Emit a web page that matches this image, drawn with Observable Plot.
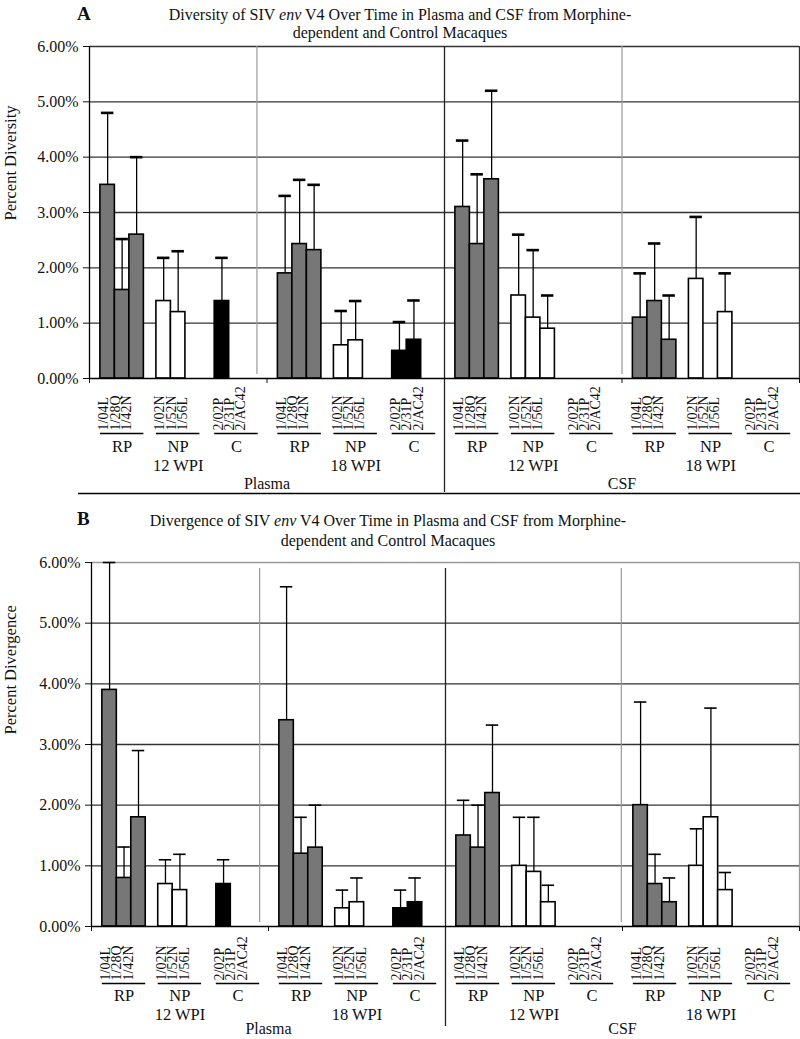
<!DOCTYPE html>
<html>
<head>
<meta charset="utf-8">
<script src="https://cdn.jsdelivr.net/npm/d3@7"></script>
<script src="https://cdn.jsdelivr.net/npm/@observablehq/plot@0.6"></script>
<style>
  body { margin: 0; background: #fff; }
  #wrap { position: relative; width: 800px; height: 1039px; font-family: "Liberation Serif", "Times New Roman", serif; color: #111; overflow: hidden; }
  .letter { position: absolute; font-weight: bold; font-size: 19px; line-height: 19px; }
  .title { position: absolute; text-align: center; font-size: 16px; }
  .chart { position: absolute; left: 0; }
  svg { overflow: visible; }
</style>
</head>
<body>
<div id="wrap">
  <div class="letter" style="left:77px;top:4px">A</div>
  <div class="title" style="left:0;width:800px;top:6px;line-height:18px">Diversity of SIV <i>env</i> V4 Over Time in Plasma and CSF from Morphine-<br>dependent and Control Macaques</div>
  <div class="chart" id="chartA" style="top:40px"></div>
  <div class="letter" style="left:77px;top:509px">B</div>
  <div class="title" style="left:0;width:776px;top:511px;line-height:20px">Divergence of SIV <i>env</i> V4 Over Time in Plasma and CSF from Morphine-<br>dependent and Control Macaques</div>
  <div class="chart" id="chartB" style="top:555px"></div>
</div>
<script>
// ---- data ----
const compartments = ["Plasma", "CSF"];
const timepoints = ["12 WPI", "18 WPI"];
const groups = ["RP", "NP", "C"];
const rpAnimals = ["1/04L", "1/28Q", "1/42N"];
const npAnimals = ["1/02N", "1/52N", "1/56L"];
const cAnimals = ["2/02P", "2/31P", "2/AC42"];
const yTicks = [0, 1, 2, 3, 4, 5, 6];

// percent values; order: Plasma 12 WPI (RP, NP, C), Plasma 18 WPI, CSF 12 WPI, CSF 18 WPI; 3 animals each
const diversityMean = [
  3.5, 1.6, 2.6,   1.4, 1.2, null,   1.4, null, null,
  1.9, 2.43, 2.32, 0.6, 0.69, null,  0.5, 0.7, null,
  3.1, 2.43, 3.6,  1.5, 1.1, 0.9,    null, null, null,
  1.1, 1.4, 0.7,   1.8, null, 1.2,   null, null, null
];
const diversitySD = [
  1.3, 0.92, 1.4,  0.78, 1.1, null,  0.78, null, null,
  1.4, 1.16, 1.18, 0.62, 0.71, null, 0.52, 0.71, null,
  1.2, 1.26, 1.6,  1.1, 1.22, 0.6,   null, null, null,
  0.8, 1.04, 0.8,  1.12, null, 0.7,  null, null, null
];
const divergenceMean = [
  3.9, 0.8, 1.8,   0.7, 0.6, null,   0.7, null, null,
  3.4, 1.2, 1.3,   0.3, 0.4, null,   0.3, 0.4, null,
  1.5, 1.3, 2.2,   1.0, 0.9, 0.4,    null, null, null,
  2.0, 0.7, 0.4,   1.0, 1.8, 0.6,    null, null, null
];
const divergenceSD = [
  2.1, 0.51, 1.1,  0.4, 0.59, null,  0.4, null, null,
  2.2, 0.6, 0.7,   0.3, 0.4, null,   0.3, 0.4, null,
  0.58, 0.7, 1.12, 0.8, 0.9, 0.28,   null, null, null,
  1.7, 0.49, 0.4,  0.61, 1.8, 0.29,  null, null, null
];

// ---- layout (not data) ----
const animalsByGroup = [rpAnimals, npAnimals, cAnimals];
const groupFill = {RP: "#777777", NP: "#ffffff", C: "#000000"};
const clusterOffset = [0.184, 0.131, 0.116];
const BW = 0.245;
const FONT = '"Liberation Serif", "Times New Roman", serif';

function makeClusters() {
  const out = [];
  compartments.forEach((comp, ci) => timepoints.forEach((tp, ti) => groups.forEach((g, gi) => {
    const k = ci * 6 + ti * 3 + gi;
    const left = k + clusterOffset[gi];
    out.push({k, comp, tp, g, gi, left, right: left + 3 * BW, center: left + 1.5 * BW, animals: animalsByGroup[gi]});
  })));
  return out;
}
function makeBars(mean, sd) {
  const out = [];
  makeClusters().forEach(c => c.animals.forEach((a, ai) => {
    const v = mean[c.k * 3 + ai];
    if (v == null) return;
    const x1 = c.left + ai * BW;
    out.push({x1, x2: x1 + BW, xc: x1 + BW / 2, v, top: v + sd[c.k * 3 + ai], g: c.g, animal: a});
  }));
  return out;
}

function chart(o) {
  const cl = makeClusters();
  const b = makeBars(o.mean, o.sd);
  const zero = () => 0;
  return Plot.plot({
    width: 800, height: o.height,
    marginLeft: o.marginLeft, marginRight: 1, marginTop: o.marginTop, marginBottom: o.marginBottom,
    style: {fontFamily: FONT, fontSize: "16px", color: "#111", background: "transparent", overflow: "visible"},
    x: {domain: [0, 12], ticks: [0, 3, 6, 9, 12], tickFormat: () => "", tickSize: 5, label: null},
    y: {domain: [0, 6], ticks: yTicks, tickFormat: d => d.toFixed(2) + "%", tickSize: 6, tickPadding: 5, label: null},
    marks: [
      Plot.ruleY(yTicks.filter(d => d > 0 && d < 6), {stroke: "#333", strokeWidth: 1.3}),
      Plot.ruleY([6], {stroke: o.frameColor, strokeWidth: 1.3}),
      Plot.ruleX([12], {stroke: o.frameColor, strokeWidth: 1.3}),
      Plot.ruleX(o.graySeps, {stroke: "#999", strokeWidth: 1.2, insetTop: o.sepInsetTop, insetBottom: 4}),
      Plot.ruleX([6], {stroke: "#222", strokeWidth: 1.3, insetTop: o.sepInsetTop, insetBottom: -o.blackSepBelow}),
      ...groups.map(g => Plot.rect(b.filter(d => d.g === g), {x1: "x1", x2: "x2", y1: zero, y2: "v", fill: groupFill[g], stroke: "#000", strokeWidth: 1.6})),
      Plot.ruleX(b, {x: "xc", y1: "v", y2: "top", stroke: "#000", strokeWidth: 1.3}),
      Plot.ruleY(b, {x1: "x1", x2: "x2", y: "top", insetLeft: 1, insetRight: 1, stroke: "#000", strokeWidth: o.capStroke}),
      Plot.ruleX([0], {stroke: "#000", strokeWidth: 1.3}),
      Plot.ruleY([0], {stroke: "#000", strokeWidth: 1.6}),
      Plot.text(cl, {x: "left", y: zero, text: d => d.animals.join("\n"), rotate: -90, textAnchor: "start", lineAnchor: "top", lineHeight: 0.8, dy: o.lab[0], fontSize: 14}),
      Plot.ruleY(cl, {x1: "left", x2: "right", y: zero, dy: o.lab[1], stroke: "#000", strokeWidth: 1.6}),
      Plot.text(cl, {x: "center", y: zero, text: "g", dy: o.lab[2], fontSize: 16.5}),
      Plot.text(cl.filter(d => d.gi === 1), {x: "center", y: zero, text: "tp", dy: o.lab[3], fontSize: 16.5}),
      Plot.text(compartments, {x: (d, i) => i * 6 + 3, y: zero, text: d => d, dy: o.lab[4], fontSize: 16}),
      ...(o.bottomLine ? [Plot.ruleY([0], {dy: o.bottomLine, insetLeft: -11, insetRight: -1, stroke: "#000", strokeWidth: 1.6})] : []),
      Plot.text([o.label], {frameAnchor: "left", rotate: -90, dx: -(o.marginLeft - 10), dy: o.labelDy, fontSize: 16.5})
    ]
  });
}

document.getElementById("chartA").append(chart({
  mean: diversityMean, sd: diversitySD, label: "Percent Diversity",
  height: 460, marginTop: 6, marginBottom: 122, marginLeft: 89,
  frameColor: "#333", graySeps: [2.83, 9], sepInsetTop: 0, blackSepBelow: 114,
  capStroke: 2.6, lab: [52, 55, 68, 87, 105], bottomLine: 115, labelDy: 8
}));
document.getElementById("chartB").append(chart({
  mean: divergenceMean, sd: divergenceSD, label: "Percent Divergence",
  height: 484, marginTop: 7, marginBottom: 113, marginLeft: 91,
  frameColor: "#999", graySeps: [2.85, 8.98], sepInsetTop: 6, blackSepBelow: 100,
  capStroke: 1.6, lab: [54, 57, 69, 88, 102], bottomLine: 0, labelDy: -10
}));
</script>
</body>
</html>
